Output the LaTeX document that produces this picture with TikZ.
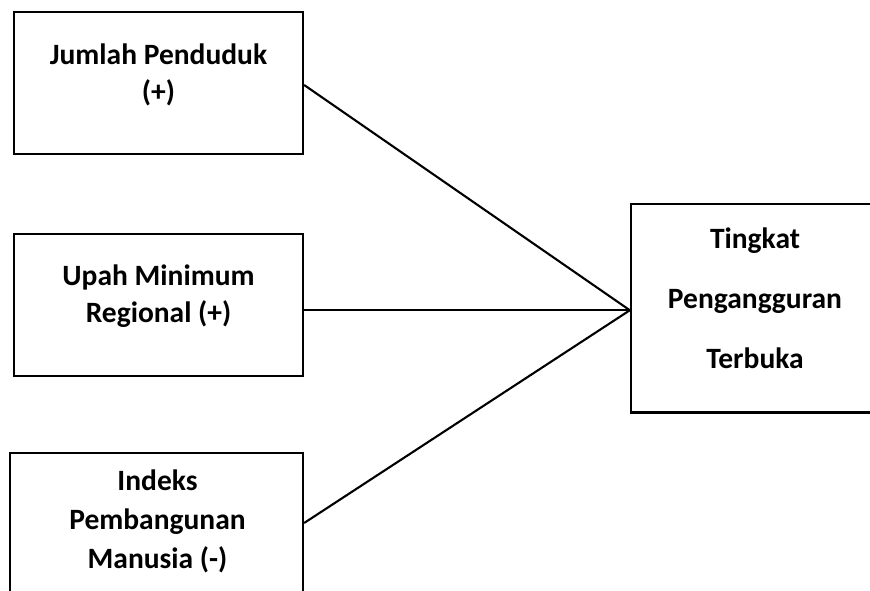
\documentclass[tikz,border=0pt]{standalone}
\usepackage{fontspec}
\setmainfont{Carlito}
\begin{document}
\begin{tikzpicture}[x=1pt,y=-1pt,
  box/.style={draw, line width=2.3pt, rectangle, inner sep=0pt},
  lbl/.style={align=center, inner sep=0pt, font=\bfseries\fontsize{29.5}{37}\selectfont},
  conn/.style={line width=2.1pt}]
\useasboundingbox (0,0) rectangle (870,591);
\clip (0,0) rectangle (870,591);
\node[box, minimum width=289pt, minimum height=142pt] (b1) at (158.5,83) {};
\node[box, minimum width=289pt, minimum height=142pt] (b2) at (158.5,305) {};
\node[box, minimum width=293pt, minimum height=167pt] (b3) at (156.5,536.5) {};
\node[box, minimum width=249pt, minimum height=208.5pt] (b4) at (755.5,308.25) {};
\node[lbl] (t1) at (158.5,75) {Jumlah Penduduk\\(+)};
\node[lbl] (t2) at (158.5,296) {Upah Minimum\\Regional (+)};
\node[lbl, font=\bfseries\fontsize{29.5}{39}\selectfont] (t3) at (157.5,521.5) {Indeks\\Pembangunan\\Manusia (-)};
\node[lbl, font=\bfseries\fontsize{29.5}{60}\selectfont] (t4) at (755,298) {Tingkat\\Pengangguran\\Terbuka};
\coordinate (m) at ([yshift=-2pt]b4.west);
\draw[conn] ([yshift=-2pt]b1.east) -- (m);
\draw[conn] (b2.east |- m) -- (m);
\draw[conn] ([yshift=13.5pt]b3.east) -- (m);
\end{tikzpicture}
\end{document}
